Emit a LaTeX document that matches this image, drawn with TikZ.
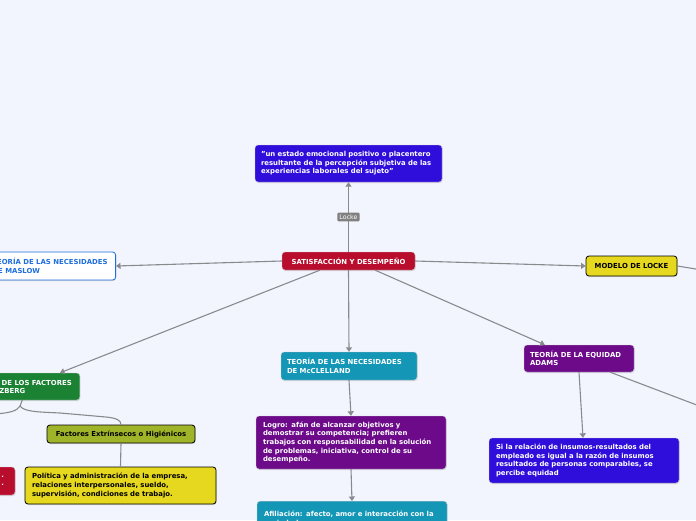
\documentclass[tikz,border=0pt]{standalone}
\usepackage{fontspec}
\setmainfont{DejaVu Sans}
\usetikzlibrary{arrows.meta,shadows}
\definecolor{bgpage}{RGB}{243,245,254}
\definecolor{linegray}{RGB}{138,138,142}
\definecolor{quoteblue}{RGB}{47,14,219}
\definecolor{crimson}{RGB}{184,13,45}
\definecolor{maslowblue}{RGB}{30,110,220}
\definecolor{lockeyellow}{RGB}{230,216,30}
\definecolor{herzgreen}{RGB}{27,130,52}
\definecolor{mcteal}{RGB}{20,150,182}
\definecolor{adpurple}{RGB}{108,10,138}
\definecolor{olivegreen}{RGB}{160,180,42}
\tikzset{
  box/.style={draw=white!80!black, rounded corners=3pt, inner sep=0pt, align=left,
    font=\bfseries\fontsize{6.9}{8.6}\selectfont,
    drop shadow={shadow xshift=0.6pt, shadow yshift=-1pt, opacity=0.25}},
  darkbox/.style={box, text=white},
  lightbox/.style={box, draw=black, line width=0.8pt, text=black},
  conn/.style={draw=linegray, line width=1.1pt},
  lockelbl/.style={fill=gray, text=white, rounded corners=1pt, inner sep=2pt,
    font=\fontsize{6.3}{7}\selectfont},
  >={Triangle[width=6pt,length=4.5pt]}
}
\begin{document}
\begin{tikzpicture}[x=1pt, y=-1pt]
  % canvas
  \useasboundingbox (0,0) rectangle (696,520);
  \fill[bgpage] (0,0) rectangle (696,520);
  \clip (0,0) rectangle (696,520);

  % centre and first level
  \node[darkbox, fill=crimson, minimum width=133pt, minimum height=18pt, align=center] (central) at (348.5,261) {SATISFACCIÓN Y DESEMPEÑO};
  \node[darkbox, fill=quoteblue, minimum width=187pt, minimum height=37pt, text width=175pt] (quote) at (348.5,163.5) {"un estado emocional positivo o placentero\\resultante de la percepción subjetiva de las\\experiencias laborales del sujeto"};
  \node[box, fill=white, draw=maslowblue, line width=0.8pt, text=maslowblue, minimum height=28pt, inner xsep=8pt, anchor=east] (maslow) at (116,266) {TEORÍA DE LAS NECESIDADES\\DE MASLOW};
  \node[lightbox, fill=lockeyellow, minimum width=91pt, minimum height=20pt, align=center] (locke) at (631.5,266) {MODELO DE LOCKE};
  \node[darkbox, fill=herzgreen, minimum height=27pt, inner xsep=8pt, anchor=east] (herz) at (80,386.5) {TEORÍA DE LOS FACTORES\\DE HERZBERG};
  \node[darkbox, fill=mcteal, minimum width=136pt, minimum height=28pt, text width=124pt] (mccl) at (349,366) {TEORÍA DE LAS NECESIDADES\\DE McCLELLAND};
  \node[darkbox, fill=adpurple, minimum width=110pt, minimum height=27pt, text width=98pt] (adams) at (579,358.5) {TEORÍA DE LA EQUIDAD\\ADAMS};

  % second level
  \node[lightbox, fill=olivegreen, minimum width=148pt, minimum height=18pt, align=center] (factext) at (121,434) {Factores Extrínsecos o Higiénicos};
  \node[lightbox, fill=lockeyellow, minimum width=191pt, minimum height=37pt, text width=177pt] (polit) at (120.5,485.5) {Política y administración de la empresa,\\relaciones interpersonales, sueldo,\\supervisión, condiciones de trabajo.};
  \node[darkbox, fill=crimson, minimum width=60pt, minimum height=28pt, text width=38pt, align=right] (factint) at (-15,481) {.\\.};
  \node[darkbox, fill=adpurple, minimum width=190pt, minimum height=53pt, text width=176pt] (logro) at (351,442.5) {Logro: afán de alcanzar objetivos y\\demostrar su competencia; prefieren\\trabajos con responsabilidad en la solución\\de problemas, iniciativa, control de su\\desempeño.};
  \node[darkbox, fill=mcteal, minimum width=190pt, minimum height=34pt, text width=176pt, anchor=north] (afil) at (352,501) {Afiliación: afecto, amor e interacción con la\\sociedad};
  \node[darkbox, fill=quoteblue, minimum width=190pt, minimum height=45pt, text width=176pt] (equid) at (584,460.5) {Si la relación de insumos-resultados del\\empleado es igual a la razón de insumos\\resultados de personas comparables, se\\percibe equidad};

  % loose ends
  \coordinate (lockeoff) at (702,270);
  \coordinate (adamsoff) at (702,407);
  \coordinate (herzfork) at (20,406);
  \coordinate (herzoff) at (-6,414);

  % connectors
  \draw[conn, ->] (central.north) -- node[lockelbl] (lockelabel) {Locke} (quote.south);
  \draw[conn, ->] (central.west) -- (maslow.east);
  \draw[conn, ->] (central.east) -- (locke.west);
  \draw[conn, ->] ([xshift=38pt]central.south west) -- ([xshift=-20pt]herz.north east);
  \draw[conn, ->] (central.south) -- (mccl.north);
  \draw[conn, ->] ([xshift=-40pt]central.south east) -- ([xshift=21pt]adams.north west);
  \draw[conn] (locke.east) -- (lockeoff);
  \draw[conn] ([xshift=-24pt]adams.south east) -- (adamsoff);
  \draw[conn, ->] (adams.south) -- ([xshift=-1pt]equid.north);
  \draw[conn, ->] (mccl.south) -- (logro.north);
  \draw[conn, ->] (logro.south) -- (afil.north);
  \draw[conn] ([xshift=1pt]herz.south) -- (herzfork) .. controls (24,412) and (40,412) .. (60,413) -- (106,417) .. controls (116,418) and (121,420) .. (factext.north);
  \draw[conn] (herzfork) .. controls (17,411) and (10,413) .. (herzoff);
  \draw[conn] (factext.south) -- (polit.north);
\end{tikzpicture}
\end{document}
